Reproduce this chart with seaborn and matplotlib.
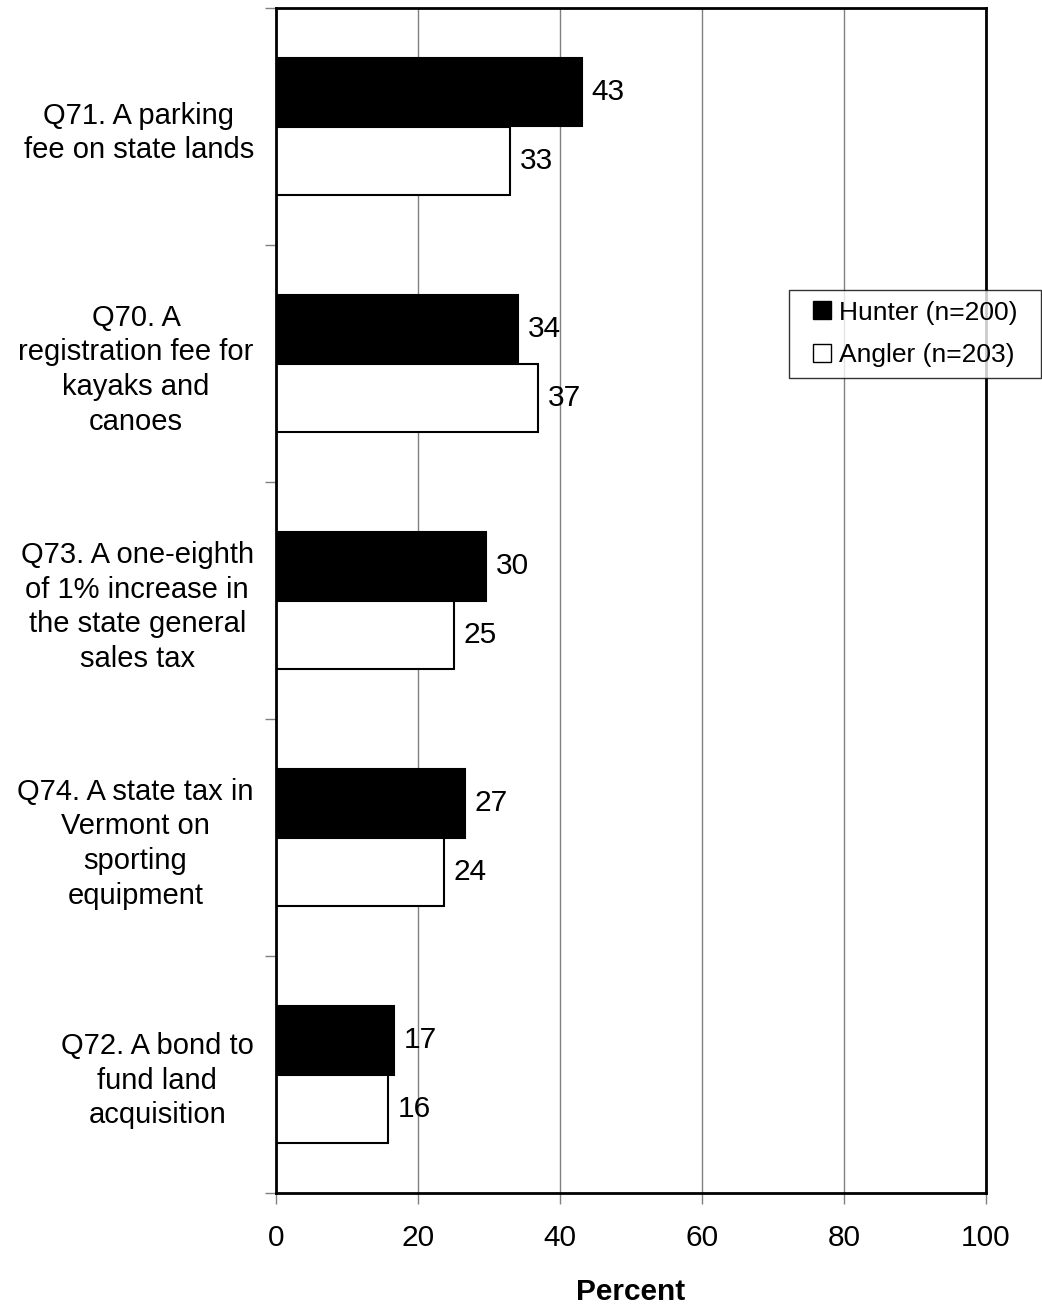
import matplotlib
matplotlib.use("Agg")
import matplotlib.pyplot as plt
import seaborn as sns
import pandas as pd
from matplotlib.lines import Line2D

# data
categories = [
    "Q71. A parking\nfee on state lands",
    "Q70. A\nregistration fee for\nkayaks and\ncanoes",
    "Q73. A one-eighth\nof 1% increase in\nthe state general\nsales tax",
    "Q74. A state tax in\nVermont on\nsporting\nequipment",
    "Q72. A bond to\nfund land\nacquisition",
]
hunter = [43.1, 34.1, 29.6, 26.6, 16.6]
angler = [33.0, 36.9, 25.1, 23.7, 15.8]
series = ["Hunter (n=200)", "Angler (n=203)"]
x_ticks = [0, 20, 40, 60, 80, 100]

df = pd.DataFrame({
    "question": categories * 2,
    "percent": hunter + angler,
    "group": [series[0]] * len(categories) + [series[1]] * len(categories),
})

sns.set_style("white")
plt.rcParams["font.family"] = ["Liberation Sans", "DejaVu Sans"]
plt.rcParams["text.color"] = "black"
plt.rcParams["axes.labelcolor"] = "black"

fs = 21.5

fig = plt.figure(figsize=(10.42, 13.08), dpi=100)
ax = fig.add_axes([276 / 1042, 1 - 1193 / 1308, 710 / 1042, 1185 / 1308])

sns.barplot(data=df, x="percent", y="question", hue="group", order=categories,
            hue_order=series, palette=["black", "white"], orient="h",
            width=0.58, edgecolor="black", linewidth=1.5, ax=ax, legend=False)

for cont in ax.containers:
    ax.bar_label(cont, fmt="%.0f", padding=7, fontsize=fs, color="black")

ax.set_xlim(0, 100)
ax.set_ylim(len(categories) - 0.5, -0.5)
ax.set_xticks(x_ticks)
ax.set_xticklabels([str(t) for t in x_ticks], fontsize=fs)
ax.tick_params(axis="x", length=8, width=1, color="gray", labelcolor="black",
               pad=14, bottom=True)

ax.set_yticks(range(len(categories)))
ax.set_yticklabels(categories, fontsize=21, linespacing=1.3)
for lab in ax.get_yticklabels():
    lab.set_multialignment("center")
ax.tick_params(axis="y", which="major", length=0, pad=16, labelcolor="black")
ax.set_yticks([i - 0.5 for i in range(len(categories) + 1)], minor=True)
ax.tick_params(axis="y", which="minor", length=8, width=1, color="gray", left=True)

ax.xaxis.grid(True, color="gray", linewidth=1)
ax.yaxis.grid(False)
ax.set_axisbelow(True)
for sp in ax.spines.values():
    sp.set_color("black")
    sp.set_linewidth(2)

ax.set_ylabel("")
ax.set_xlabel("Percent", fontsize=fs, fontweight="bold", labelpad=19)

handles = [Line2D([], [], linestyle="none", marker="s", markersize=13.5,
                  markerfacecolor="black", markeredgecolor="black", markeredgewidth=1),
           Line2D([], [], linestyle="none", marker="s", markersize=13.5,
                  markerfacecolor="white", markeredgecolor="black", markeredgewidth=1)]
leg = fig.legend(handles, series, loc="upper left", mode="expand",
                 bbox_to_anchor=(789 / 1042, 1 - 379 / 1308, 252 / 1042, 89 / 1308),
                 fontsize=19, frameon=True, fancybox=False, edgecolor="black",
                 handlelength=1.73, handletextpad=-0.23,
                 borderpad=0.4, labelspacing=0.7, borderaxespad=0)
leg.get_frame().set_linewidth(1)

fig.savefig("out.png", dpi=100)
